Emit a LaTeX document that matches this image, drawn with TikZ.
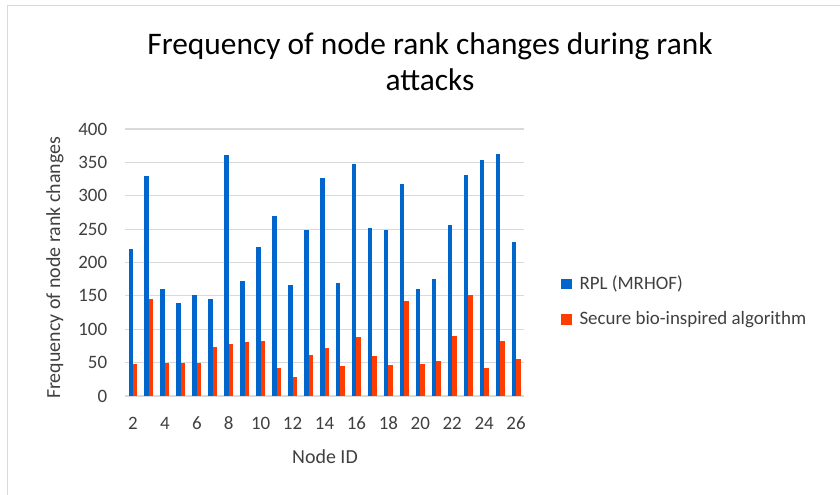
\documentclass[tikz,border=0pt]{standalone}
\usepackage{fontspec, xcolor}
\setmainfont{Carlito}
\definecolor{rplblue}{RGB}{0,102,204}
\definecolor{biored}{RGB}{255,61,0}
\definecolor{gridgray}{RGB}{217,217,217}

\begin{document}
\begin{tikzpicture}[x=1bp, y=1bp]
  \useasboundingbox (0,0) rectangle (840,495);
  \fill[white] (0,0) rectangle (840,495);
  % frame
  \draw[line width=1.5, color=gridgray] (7.5,0) -- (7.5,489.5) -- (840,489.5);
  % title
  \node[align=center, font=\fontsize{31.5}{36}\selectfont] (title) at (430,433) {Frequency of node rank changes during rank\\ attacks};
  \begin{scope}[shift={(125,99)}, x=15.96bp, y=0.6675bp]
    % grid and ticks
    \foreach \v in {50,100,...,400}
      \draw[line width=1.2, color=gridgray] (0,\v) -- (25,\v);
    \draw[line width=1.2, color=gridgray] (0,0) -- (25,0);
    \foreach \v in {0,50,...,400}
      \node[anchor=east, font=\fontsize{19}{22}\selectfont, text=black!75] at (-0.9,\v) {\v};
    % bars
    \foreach \n/\b/\r [count=\i from 0] in {2/220/48, 3/330/145, 4/160/50, 5/140/49, 6/151/49,
        7/145/74, 8/361/78, 9/172/81, 10/223/82, 11/270/42, 12/166/28, 13/248/62, 14/327/72,
        15/170/45, 16/348/88, 17/252/60, 18/249/46, 19/317/142, 20/161/48, 21/176/52,
        22/256/90, 23/331/151, 24/353/42, 25/363/83, 26/231/56} {
      \fill[rplblue] (\i+0.22,0) rectangle (\i+0.5,\b);
      \fill[biored] (\i+0.5,0) rectangle (\i+0.78,\r);
    }
    \foreach \n [count=\i from 0] in {2,4,...,26}
      \node[font=\fontsize{19}{22}\selectfont, text=black!75] at (2*\i+0.5,-40.5) {\n};
  \end{scope}
  % axis titles
  \node[font=\fontsize{20}{24}\selectfont, text=black!75] (xlabel) at (325,38) {Node ID};
  \node[font=\fontsize{20}{24}\selectfont, text=black!75, rotate=90] (ylabel) at (55,227) {Frequency of node rank changes};
  % legend
  \fill[rplblue] (561,206) rectangle (572,216);
  \fill[biored] (561,170) rectangle (572,181);
  \node[anchor=west, font=\fontsize{19}{22}\selectfont, text=black!75] (rpl) at (576,211) {RPL (MRHOF)};
  \node[anchor=west, font=\fontsize{19}{22}\selectfont, text=black!75] (secure) at (576,175.5) {Secure bio-inspired algorithm};
\end{tikzpicture}
\end{document}
